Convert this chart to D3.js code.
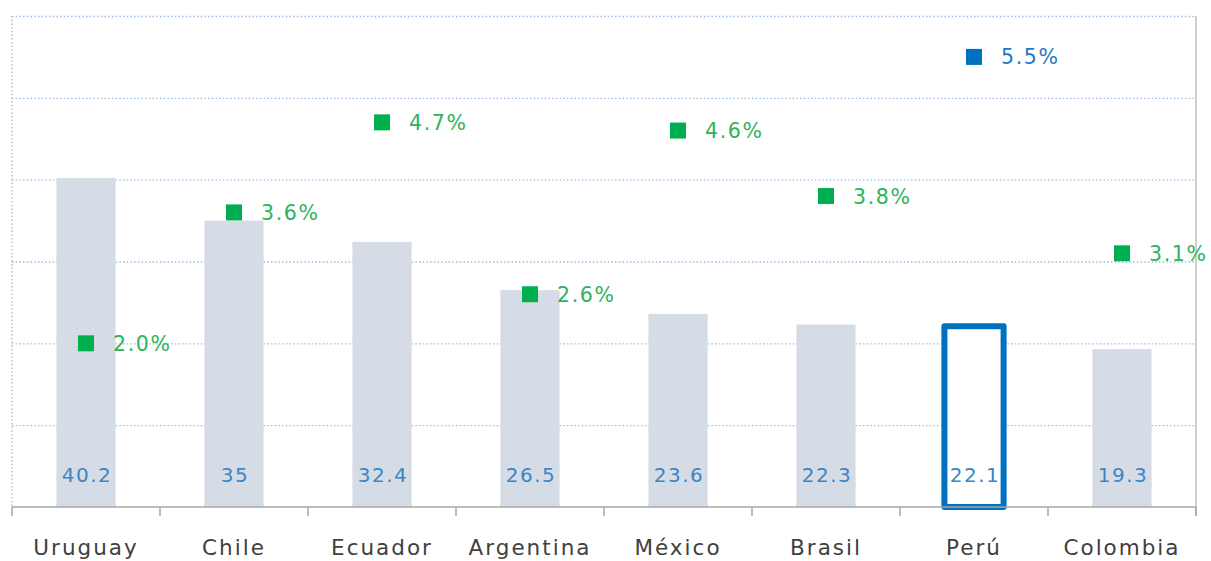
<!DOCTYPE html>
<html>
<head>
<meta charset="utf-8">
<script src="https://cdn.jsdelivr.net/npm/d3@7"></script>
<style>
  body { margin: 0; background: #fff; }
  svg { display: block; }
</style>
</head>
<body>
<div id="chart"></div>
<script>
var categories = ["Uruguay", "Chile", "Ecuador", "Argentina", "México", "Brasil", "Perú", "Colombia"];
var barValues = [40.2, 35, 32.4, 26.5, 23.6, 22.3, 22.1, 19.3];
var barLabels = ["40.2", "35", "32.4", "26.5", "23.6", "22.3", "22.1", "19.3"];
var growth = [2.0, 3.6, 4.7, 2.6, 4.6, 3.8, 5.5, 3.1];
var leftTicks = [0, 10, 20, 30, 40, 50, 60];
var highlight = "Perú";

var width = 1211,
    height = 561,
    plotLeft = 12,
    plotRight = 1196,
    plotTop = 16,
    plotBottom = 507;

var svg = d3.select("#chart").append("svg")
    .attr("width", width)
    .attr("height", height);

var x = d3.scaleBand()
    .domain(categories)
    .range([plotLeft, plotRight])
    .paddingInner(0)
    .paddingOuter(0);

var y = d3.scaleLinear()
    .domain([0, 60])
    .range([plotBottom, plotTop]);

var y2 = d3.scaleLinear()
    .domain([0, 6])
    .range([plotBottom, plotTop]);

var barWidth = x.bandwidth() * 0.4;

// gridlines
svg.append("g")
    .attr("transform", "translate(" + plotLeft + ",0)")
    .call(d3.axisLeft(y).tickValues(leftTicks.slice(1)).tickSize(-(plotRight - plotLeft)).tickFormat(""))
    .call(function(g) {
        g.select(".domain").remove();
        g.selectAll("line")
            .style("stroke", "#9dbde6")
            .style("stroke-width", 1.4)
            .style("stroke-dasharray", "1.5,2.2");
    });

// left dotted border, right solid border
svg.append("line")
    .attr("x1", plotLeft).attr("x2", plotLeft)
    .attr("y1", plotTop).attr("y2", plotBottom)
    .style("stroke", "#b8b8b8")
    .style("stroke-width", 1.4)
    .style("stroke-dasharray", "1.5,2.2");

svg.append("line")
    .attr("x1", plotRight).attr("x2", plotRight)
    .attr("y1", plotTop).attr("y2", plotBottom + 9)
    .style("stroke", "#bfbfbf")
    .style("stroke-width", 1.5);

// bars
var rows = categories.map(function(c, i) {
    return { cat: c, value: barValues[i], label: barLabels[i], growth: growth[i] };
});

svg.selectAll(".bar")
    .data(rows)
    .enter().append("rect")
    .attr("class", "bar")
    .attr("x", function(d) { return x(d.cat) + (x.bandwidth() - barWidth) / 2; })
    .attr("y", function(d) { return y(d.value); })
    .attr("width", barWidth)
    .attr("height", function(d) { return plotBottom - y(d.value); })
    .style("fill", function(d) { return d.cat === highlight ? "#fff" : "#d6dce5"; })
    .style("stroke", function(d) { return d.cat === highlight ? "#0070c0" : "none"; })
    .style("stroke-width", 6)
    .style("stroke-linejoin", "round");

svg.selectAll(".barLabel")
    .data(rows)
    .enter().append("text")
    .attr("class", "barLabel")
    .attr("x", function(d) { return x(d.cat) + x.bandwidth() / 2 + 1; })
    .attr("y", 482)
    .style("fill", "#3a86c8")
    .style("font-family", "'DejaVu Sans', sans-serif")
    .style("font-size", "20px")
    .style("letter-spacing", "1.5px")
    .style("text-anchor", "middle")
    .text(function(d) { return d.label; });

// x axis
var xAxis = d3.axisBottom(x).tickSize(0).tickPadding(0);
svg.append("g")
    .attr("transform", "translate(0," + plotBottom + ")")
    .call(xAxis)
    .call(function(g) {
        g.select(".domain").remove();
        g.selectAll("text")
            .attr("y", 48)
            .attr("dy", 0)
            .style("fill", "#404040")
            .style("font-family", "'DejaVu Sans', sans-serif")
            .style("font-size", "21.5px")
            .style("letter-spacing", "2px");
    });

svg.append("line")
    .attr("x1", plotLeft).attr("x2", plotRight)
    .attr("y1", plotBottom).attr("y2", plotBottom)
    .style("stroke", "#a6a6a6")
    .style("stroke-width", 1.5);

svg.selectAll(".tickMark")
    .data(categories.concat([null]))
    .enter().append("line")
    .attr("class", "tickMark")
    .attr("x1", function(d) { return d === null ? plotRight : x(d); })
    .attr("x2", function(d) { return d === null ? plotRight : x(d); })
    .attr("y1", plotBottom)
    .attr("y2", plotBottom + 9)
    .style("stroke", "#a6a6a6")
    .style("stroke-width", 1.5);

// growth markers
svg.selectAll(".marker")
    .data(rows)
    .enter().append("rect")
    .attr("class", "marker")
    .attr("x", function(d) { return x(d.cat) + x.bandwidth() / 2 - 8; })
    .attr("y", function(d) { return y2(d.growth) - 8; })
    .attr("width", 16)
    .attr("height", 16)
    .style("fill", function(d) { return d.cat === highlight ? "#0070c0" : "#00b050"; });

svg.selectAll(".markerLabel")
    .data(rows)
    .enter().append("text")
    .attr("class", "markerLabel")
    .attr("x", function(d) { return x(d.cat) + x.bandwidth() / 2 + 27; })
    .attr("y", function(d) { return y2(d.growth) + 7.5; })
    .style("fill", function(d) { return d.cat === highlight ? "#1a78c8" : "#2cb35c"; })
    .style("font-family", "'DejaVu Sans', sans-serif")
    .style("font-size", "20.5px")
    .style("letter-spacing", "1.6px")
    .text(function(d) { return d.growth.toFixed(1) + "%"; });
</script>
</body>
</html>
